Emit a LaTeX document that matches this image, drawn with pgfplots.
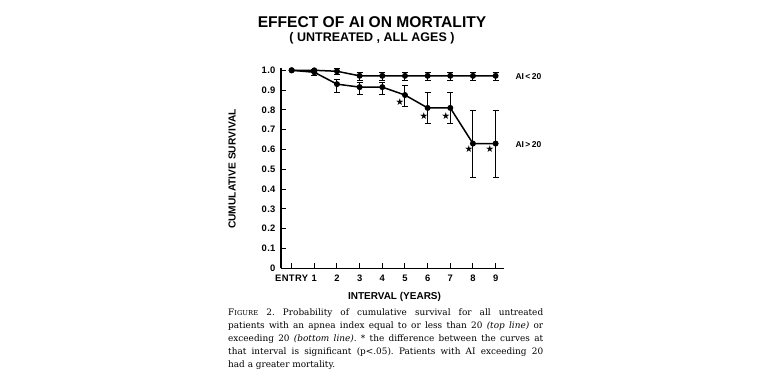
\documentclass[border=0pt]{standalone}
\usepackage{fontspec}
\setmainfont{DejaVu Serif}
\newfontfamily\hv{Liberation Sans}
\newfontfamily\hvw[LetterSpace=4]{Liberation Sans}
\newfontfamily\dv{DejaVu Sans}
\usepackage{pgfplots}
\pgfplotsset{compat=1.18}
\pgfplotstableread{
x y ep em
0 1.0 0 0
1 1.0 0.005 0.008
2 0.995 0.015 0.015
3 0.972 0.018 0.022
4 0.972 0.018 0.022
5 0.972 0.018 0.022
6 0.972 0.018 0.022
7 0.972 0.018 0.022
8 0.972 0.018 0.022
9 0.972 0.018 0.022
}\lowtab
\pgfplotstableread{
x y ep em
0 1.0 0 0
1 0.99 0.008 0.015
2 0.93 0.025 0.04
3 0.915 0.022 0.036
4 0.915 0.022 0.036
5 0.875 0.05 0.06
6 0.81 0.077 0.078
7 0.81 0.077 0.078
8 0.63 0.168 0.17
9 0.63 0.168 0.17
}\hightab
\pgfplotstableread{
x y
4.78 0.84
5.84 0.77
6.80 0.77
7.82 0.60
8.75 0.60
}\startab
\begin{document}
\begin{tikzpicture}[x=1pt,y=1pt]
\path[use as bounding box] (0,0) rectangle (774,-380);
\node[font=\hv\bfseries\fontsize{15.6}{18}\selectfont] at (372,-22) {EFFECT OF AI ON MORTALITY};
\node[font=\hv\bfseries\fontsize{12.5}{15}\selectfont] at (372,-38) {( UNTREATED , ALL AGES )};
\begin{axis}[
  at={(281pt,-268.3pt)}, anchor=south west,
  scale only axis, width=223pt, height=200pt,
  xmin=-0.47, xmax=9.37, ymin=0, ymax=1.01,
  axis x line=bottom, axis y line=left,
  axis line style={-, line width=1.5pt},
  xtick={0,1,2,3,4,5,6,7,8,9},
  xticklabels={ENTRY,1,2,3,4,5,6,7,8,9},
  ytick={0,0.1,0.2,0.3,0.4,0.5,0.6,0.7,0.8,0.9,1.0},
  yticklabels={0,0.1,0.2,0.3,0.4,0.5,0.6,0.7,0.8,0.9,1.0},
  tick align=inside, major tick length=5pt,
  tick style={line width=1pt, black},
  ticklabel style={font=\hvw\bfseries\fontsize{9.4}{11}\selectfont},
  xticklabel style={yshift=-3pt},
  yticklabel style={xshift=-2pt},
  clip=false,
]
\addplot[black, line width=1.5pt, mark=*, mark size=2.2pt,
  error bars/.cd, y dir=both, y explicit,
  error bar style={line width=1pt},
  error mark options={rotate=90, mark size=3pt, line width=1pt}]
  table[x=x, y=y, y error plus=ep, y error minus=em] {\lowtab};
\addplot[black, line width=1.5pt, mark=*, mark size=2.2pt,
  error bars/.cd, y dir=both, y explicit,
  error bar style={line width=1pt},
  error mark options={rotate=90, mark size=3pt, line width=1pt}]
  table[x=x, y=y, y error plus=ep, y error minus=em] {\hightab};
\addplot[only marks, black, mark=text, text mark={\fontsize{9.5}{9.5}\selectfont\dv ★}]
  table[x=x, y=y] {\startab};
\end{axis}
\node[font=\hv\bfseries\fontsize{8.5}{10}\selectfont, anchor=west] at (512,-77) {AI\,<\,20};
\node[font=\hv\bfseries\fontsize{8.5}{10}\selectfont, anchor=west] at (512,-145) {AI\,>\,20};
\node[font=\hv\bfseries\fontsize{10.2}{11}\selectfont, rotate=90] at (232,-169) {CUMULATIVE SURVIVAL};
\node[font=\hv\bfseries\fontsize{10}{11}\selectfont] at (394.5,-297) {INTERVAL (YEARS)};
\node[anchor=north west, text width=315pt, align=justify, inner sep=0pt,
  font=\fontsize{8.9}{13}\selectfont\frenchspacing] at (228,-309)
  {F{\fontsize{6.8}{9}\selectfont IGURE} 2. Probability of cumulative survival for all untreated\linebreak
   patients with an apnea index equal to or less than 20 \textit{(top line)} or\linebreak
   exceeding 20 \textit{(bottom line)}. * the difference between the curves at\linebreak
   that interval is significant (p<.05). Patients with AI exceeding 20\linebreak
   had a greater mortality.\par};
\end{tikzpicture}
\end{document}
